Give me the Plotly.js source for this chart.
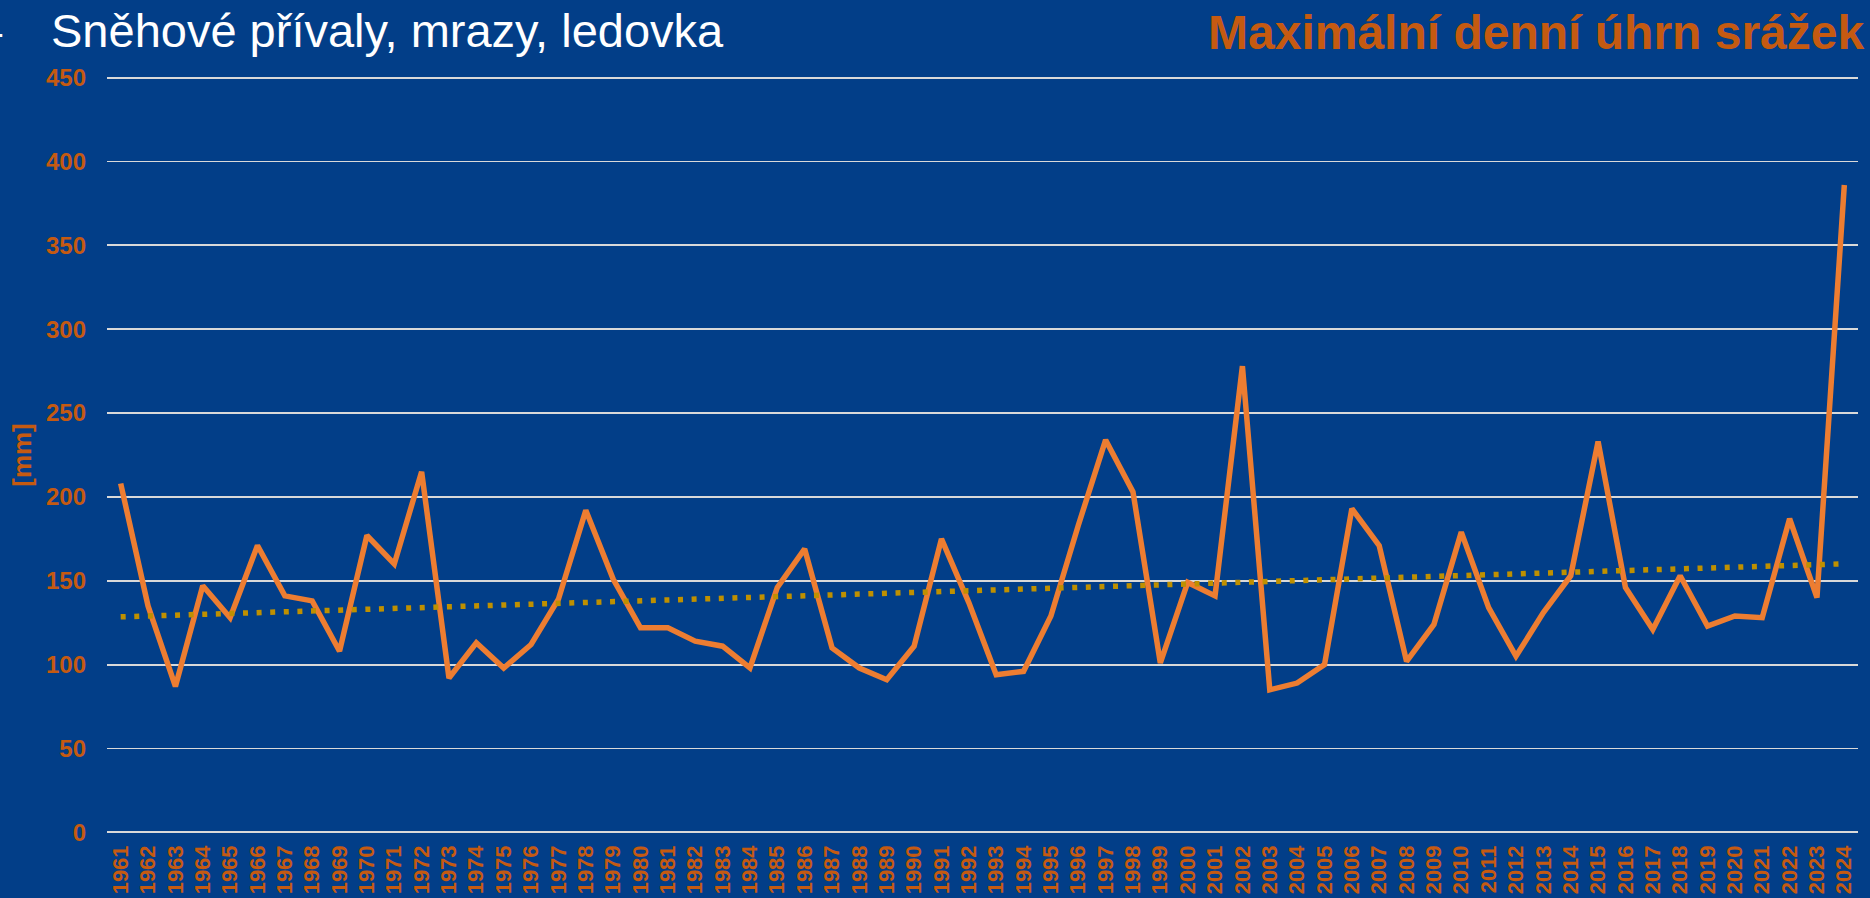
<!DOCTYPE html>
<html>
<head>
<meta charset="utf-8">
<script src="https://cdn.plot.ly/plotly-3.0.1.min.js"></script>
<style>
  html, body { margin: 0; padding: 0; background: #023E88; overflow: hidden; }
  #chart { width: 1870px; height: 898px; }
</style>
</head>
<body>
<div id="chart"></div>
<script>
// ---- data ----
const years = ["1961","1962","1963","1964","1965","1966","1967","1968","1969","1970",
  "1971","1972","1973","1974","1975","1976","1977","1978","1979","1980",
  "1981","1982","1983","1984","1985","1986","1987","1988","1989","1990",
  "1991","1992","1993","1994","1995","1996","1997","1998","1999","2000",
  "2001","2002","2003","2004","2005","2006","2007","2008","2009","2010",
  "2011","2012","2013","2014","2015","2016","2017","2018","2019","2020",
  "2021","2022","2023","2024"];
const maxDailyPrecip = [208,135,87,147,128,171,141,138,108,177,
  160,215,92,113,98,112,139,192,151,122,
  122,114,111,98,146,169,110,98,91,111,
  175,137,94,96,129,183,234,203,101,149,
  141,278,85,89,100,193,171,102,124,179,
  134,105,131,153,233,146,121,153,123,129,
  128,187,140,386];
const yTickVals = [0,50,100,150,200,250,300,350,400,450];
const yTickText = ["0","50","100","150","200","250","300","350","400","450"];
const chartTitle = "Maximální denní úhrn srážek";
const slideHeading = "Sněhové přívaly, mrazy, ledovka";
const bulletMark = "–";
const yAxisTitle = "[mm]";

// linear trendline (least squares over the series, as in the original chart)
const n = maxDailyPrecip.length;
let sx = 0, sy = 0, sxx = 0, sxy = 0;
maxDailyPrecip.forEach((v, i) => { sx += i; sy += v; sxx += i * i; sxy += i * v; });
const slope = (n * sxy - sx * sy) / (n * sxx - sx * sx);
const intercept = (sy - slope * sx) / n;
const trendX = [years[0], years[n - 1]];
const trendY = [intercept, intercept + slope * (n - 1)];

// ---- style ----
const FONT = "Liberation Sans, Arial, sans-serif";
const ORANGE_TEXT = "#C55A11";
const LINE_ORANGE = "#ED7D31";
const TREND_GOLD = "#BF9000";
const BG = "#023E88";
const GRID = "#D9D9D9";

const traces = [
  {
    type: "scatter", mode: "lines", name: chartTitle,
    x: years, y: maxDailyPrecip,
    line: { color: LINE_ORANGE, width: 5.5 },
    hoverinfo: "x+y"
  },
  {
    type: "scatter", mode: "lines", name: "Lineární trend",
    x: trendX, y: trendY,
    line: { color: TREND_GOLD, width: 5.5, dash: "5px,8.6px" },
    hoverinfo: "skip"
  }
];

const W = 1870, H = 898;
const mL = 107, mR = 12, mT = 76, mB = 64;
const pw = W - mL - mR, ph = H - mT - mB;
const px = X => (X - mL) / pw;
const py = Y => (H - mB - Y) / ph;

const layout = {
  width: W, height: H,
  paper_bgcolor: BG, plot_bgcolor: BG,
  margin: { l: mL, r: mR, t: mT, b: mB, pad: 0 },
  showlegend: false,
  font: { family: FONT, color: ORANGE_TEXT },
  xaxis: {
    type: "category",
    range: [-0.5, n - 0.5],
    tickmode: "array", tickvals: years, ticktext: years,
    tickangle: -90,
    ticks: "",
    showgrid: false, zeroline: false, showline: false,
    tickfont: { family: FONT, size: 22, color: ORANGE_TEXT, weight: "bold" },
    ticklabelstandoff: 6,
    fixedrange: true
  },
  yaxis: {
    range: [-1, 451],
    tickmode: "array", tickvals: yTickVals, ticktext: yTickText,
    ticks: "",
    showgrid: true, gridcolor: GRID, gridwidth: 1.8,
    zeroline: false, showline: false,
    tickfont: { family: FONT, size: 24, color: ORANGE_TEXT, weight: "bold" },
    ticklabelstandoff: 20,
    title: { text: yAxisTitle, font: { family: FONT, size: 26, color: ORANGE_TEXT, weight: "bold" }, standoff: 6 },
    fixedrange: true
  },
  annotations: [
    {
      text: slideHeading, xref: "paper", yref: "paper",
      x: px(48.7), y: py(30.4), xanchor: "left", yanchor: "middle",
      showarrow: false, font: { family: FONT, size: 47, color: "#FFFFFF" }
    },
    {
      text: bulletMark, xref: "paper", yref: "paper",
      x: px(5), y: py(30.4), xanchor: "right", yanchor: "middle",
      showarrow: false, font: { family: FONT, size: 47, color: "#FFFFFF" }
    },
    {
      text: "<b>" + chartTitle + "</b>", xref: "paper", yref: "paper",
      x: px(1865.5), y: py(32.7), xanchor: "right", yanchor: "middle",
      showarrow: false, font: { family: FONT, size: 48, color: ORANGE_TEXT }
    }
  ]
};

Plotly.newPlot("chart", traces, layout, { displayModeBar: false, staticPlot: true });
</script>
</body>
</html>
